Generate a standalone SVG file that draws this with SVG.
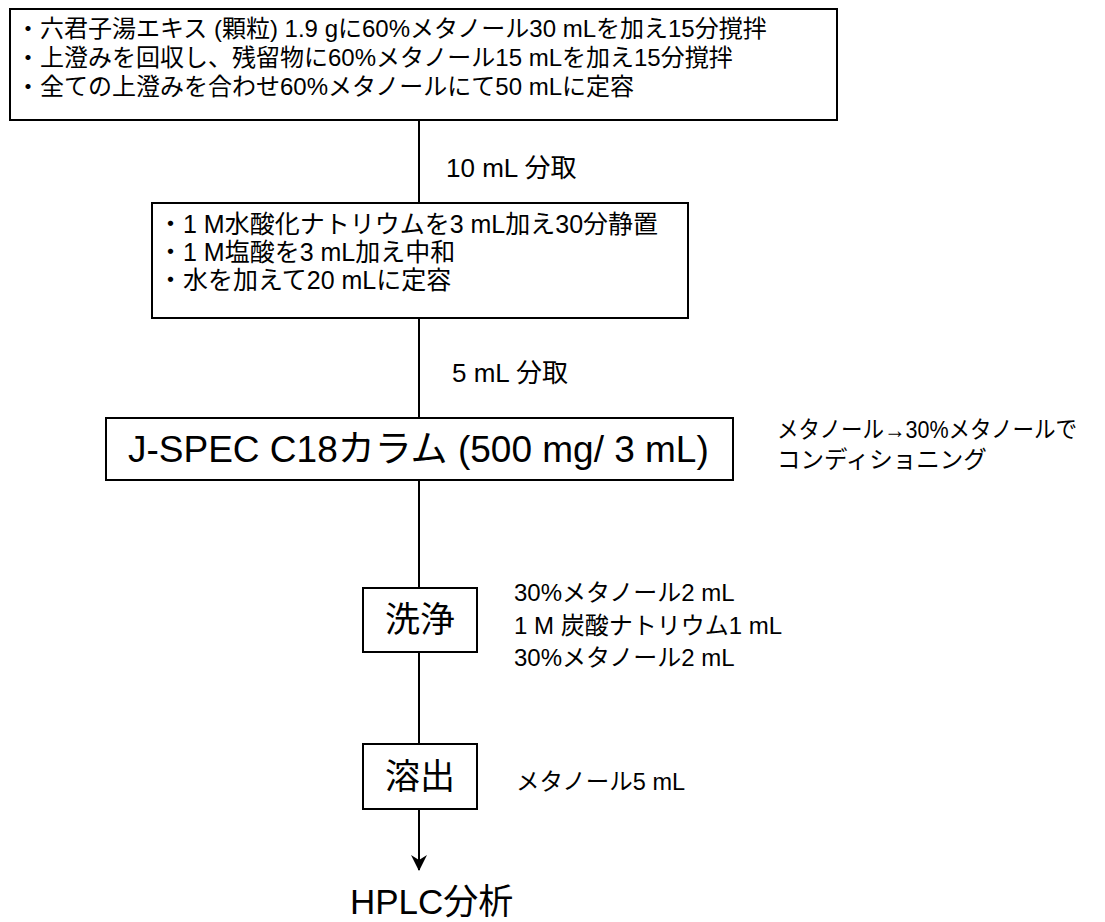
<svg xmlns="http://www.w3.org/2000/svg" width="1105" height="922" viewBox="0 0 1105 922">
<defs>
<style>
.box{fill:#fff;stroke:#000;stroke-width:2}
.t{font-family:"Liberation Sans","Noto Sans CJK JP",sans-serif;fill:#000}
.b{font-size:24px}
.b2{font-size:25px}
.lab{font-size:26px}
.s{font-size:24px}
.l{font-size:35px}
.conn{stroke:#000;stroke-width:2;fill:none}
</style>
<marker id="ah" viewBox="0 0 16 16" refX="15" refY="8" markerWidth="16" markerHeight="16" markerUnits="userSpaceOnUse" orient="auto">
<path d="M0,0 L16,8 L0,16 L5,8 Z" fill="#000"/>
</marker>
</defs>
<rect width="1105" height="922" fill="#fff"/>
<g id="connectors">
<line class="conn" x1="419" y1="120" x2="419" y2="203"/>
<line class="conn" x1="419" y1="318" x2="419" y2="418"/>
<line class="conn" x1="419" y1="480" x2="419" y2="588"/>
<line class="conn" x1="419" y1="652" x2="419" y2="744"/>
<line class="conn" x1="419" y1="809" x2="419" y2="870" marker-end="url(#ah)"/>
<text class="t lab" x="446" y="177">10 mL 分取</text>
<text class="t lab" x="452" y="382">5 mL 分取</text>
</g>
<g id="node-extract">
<rect class="box" x="10" y="9" width="827" height="111"/>
<text class="t b" x="16" y="37">・六君子湯エキス (顆粒) 1.9 gに60%メタノール30 mLを加え15分撹拌</text>
<text class="t b" x="16" y="66">・上澄みを回収し、残留物に60%メタノール15 mLを加え15分撹拌</text>
<text class="t b" x="16" y="95">・全ての上澄みを合わせ60%メタノールにて50 mLに定容</text>
</g>
<g id="node-hydrolysis">
<rect class="box" x="152" y="203" width="536" height="115"/>
<text class="t b2" x="158" y="233">・1 M水酸化ナトリウムを3 mL加え30分静置</text>
<text class="t b2" x="158" y="261">・1 M塩酸を3 mL加え中和</text>
<text class="t b2" x="158" y="289">・水を加えて20 mLに定容</text>
</g>
<g id="node-column">
<rect class="box" x="106" y="418" width="627" height="62"/>
<text class="t" font-size="37" x="128" y="462">J-SPEC C18カラム (500 mg/ 3 mL)</text>
<text class="t" font-size="23.5" x="777" y="438" textLength="300" lengthAdjust="spacingAndGlyphs">メタノール→30%メタノールで</text>
<text class="t" font-size="23.5" x="777" y="468">コンディショニング</text>
</g>
<g id="node-wash">
<rect class="box" x="363" y="588" width="114" height="64"/>
<text class="t l" x="420" y="632" text-anchor="middle">洗浄</text>
<text class="t s" x="514" y="601">30%メタノール2 mL</text>
<text class="t s" x="514" y="634">1 M 炭酸ナトリウム1 mL</text>
<text class="t s" x="514" y="666">30%メタノール2 mL</text>
</g>
<g id="node-elute">
<rect class="box" x="363" y="744" width="114" height="65"/>
<text class="t l" x="420" y="789" text-anchor="middle">溶出</text>
<text class="t" font-size="23.5" x="516" y="790">メタノール5 mL</text>
</g>
<g id="node-hplc">
<text class="t" font-size="35" x="350" y="914">HPLC分析</text>
</g>
</svg>
